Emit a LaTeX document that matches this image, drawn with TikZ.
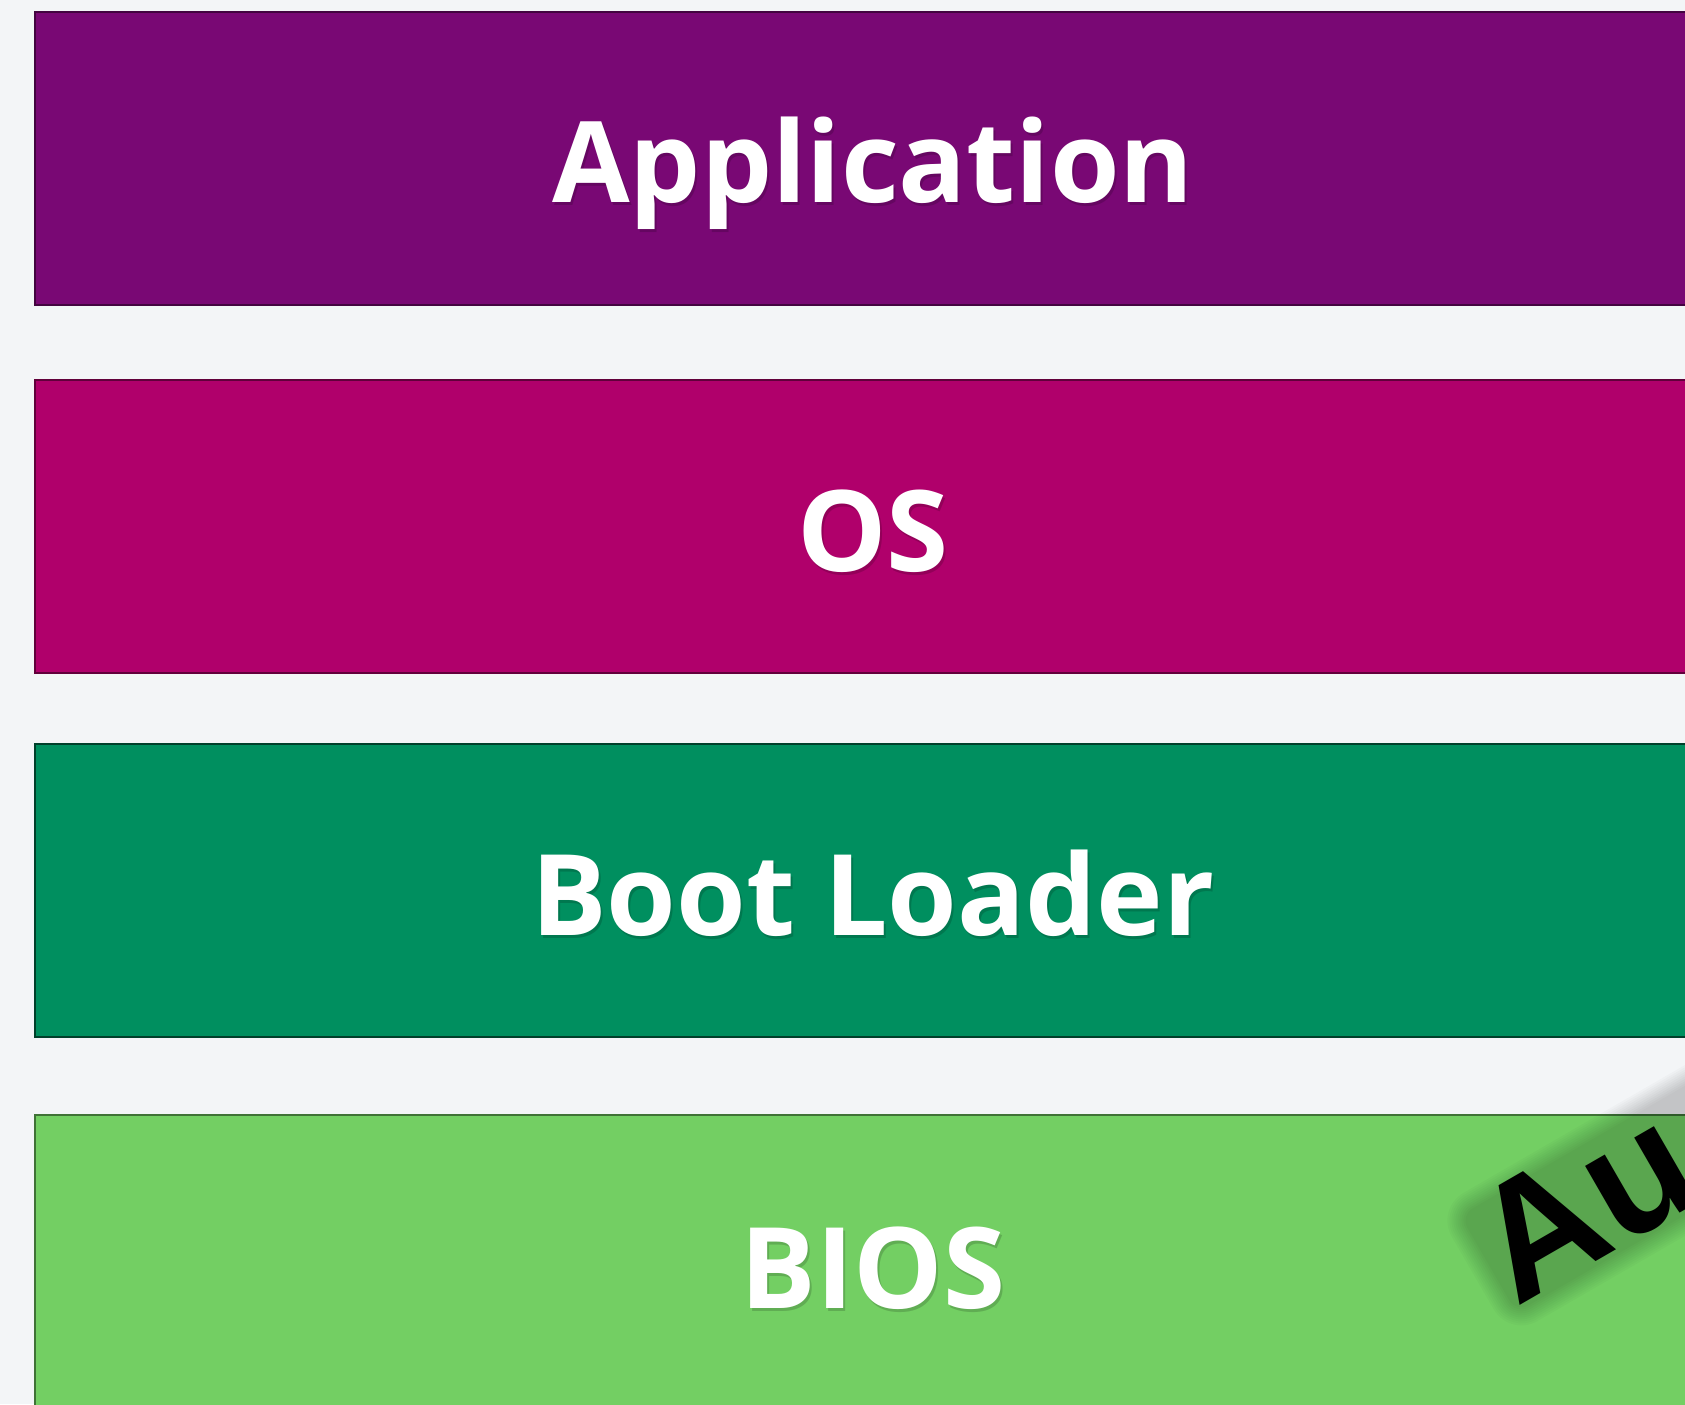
\documentclass[tikz,border=0pt]{standalone}
\usepackage{fontspec}
\setmainfont{Open Sans}
\newfontfamily\stampfont{Liberation Sans}
\usetikzlibrary{calc}
\definecolor{pagebg}{HTML}{F3F5F7}
\definecolor{appcol}{HTML}{790874}
\definecolor{oscol}{HTML}{B0006B}
\definecolor{bootcol}{HTML}{008F5F}
\definecolor{bioscol}{HTML}{73CF63}
\tikzset{
  layer/.style={line width=0.75pt},
  layertext/.style={text=white, inner sep=0pt, anchor=base,
    font=\bfseries\fontsize{56.3}{60}\selectfont},
  layershadow/.style={layertext, text=black, opacity=0.16},
  stamptext/.style={inner sep=0pt, anchor=base west, rotate=30,
    font=\stampfont\bfseries\fontsize{83}{90}\selectfont},
}
% one label with a soft drop shadow underneath
\newcommand{\shadowlabel}[3]{%
  \node[layershadow] at ($(#2)+(2,3)$) {#3};
  \node[layertext] (#1) at (#2) {#3};
}
\begin{document}
\begin{tikzpicture}[x=0.5pt,y=-0.5pt]
  \useasboundingbox (0,0) rectangle (1685,1404);
  \clip (0,0) rectangle (1685,1404);
  \fill[pagebg] (0,0) rectangle (1685,1404);

  % the four layers of the stack
  \filldraw[layer, fill=appcol, draw=appcol!55!black]   (35,12)   rectangle (1720,305);
  \filldraw[layer, fill=oscol, draw=oscol!55!black]     (35,380)  rectangle (1720,673);
  \filldraw[layer, fill=bootcol, draw=bootcol!45!black] (35,744)  rectangle (1720,1037);
  \filldraw[layer, fill=bioscol, draw=bioscol!55!black] (35,1115) rectangle (1720,1430);

  \coordinate (appc)  at (873,202);
  \coordinate (osc)   at (873,571);
  \coordinate (bootc) at (873,935);
  \coordinate (biosc) at (873,1308);
  \shadowlabel{app}{appc}{Application}
  \shadowlabel{os}{osc}{OS}
  \shadowlabel{boot}{bootc}{Boot Loader}
  \shadowlabel{bios}{biosc}{BIOS}

  % rotated stamp across the lower right corner, with a soft halo
  \coordinate (stampc) at (1516,1308);
  \begin{scope}[shift={(stampc)}, rotate=30]
    \foreach \g in {0,2,...,18}{
      \fill[black, opacity=0.02, rounded corners={(14+\g)*0.5pt}]
        ({-2-\g},{4+\g}) rectangle ({400+\g},{-108-\g});
    }
  \end{scope}
  \node[stamptext, text=black] (stamp) at (stampc) {Au};
\end{tikzpicture}
\end{document}
